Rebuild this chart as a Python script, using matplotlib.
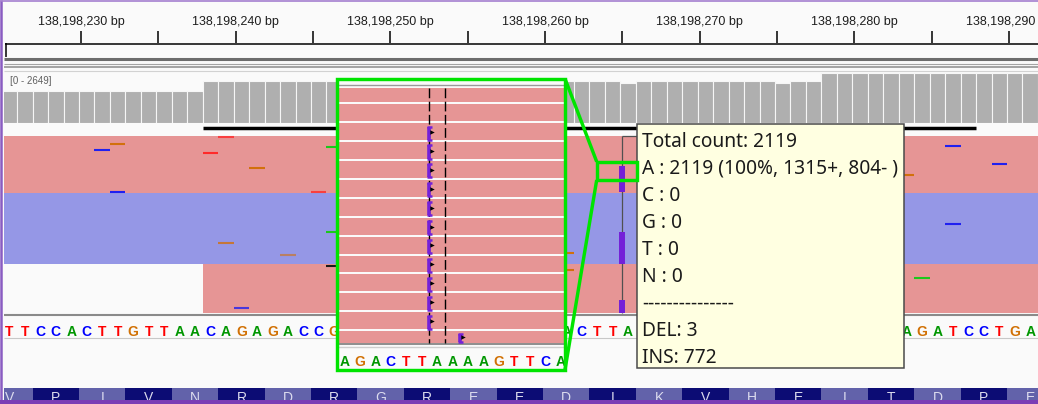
import numpy as np
import matplotlib
matplotlib.use("Agg")
import matplotlib.pyplot as plt
from matplotlib.patches import Rectangle

# canvas / genome scale (IGV screenshot, 1 base = ~15.5 px)
W, H = 1038, 404
PX_PER_BP = 15.467
TICK_X = 81            # pixel of the 138,198,230 tick
EDGE = -0.13           # base k covers [k+EDGE, k+1+EDGE]
CHROM_BASE = 138198000
BG = '#fafafa'

# ---- data ----
ruler_ticks = [230, 235, 240, 245, 250, 255, 260, 265, 270, 275, 280, 285, 290]
ruler_labels = [230, 240, 250, 260, 270, 280, 290]

cov_start = 225
coverage = [
    1695, 1695, 1695, 1695, 1695, 1695, 1695, 1695, 1695, 1695, 1695, 1695, 1695,   # 225-237
    2210, 2210, 2210, 2210, 2210, 2210, 2210, 2210, 2210, 2210, 2210, 2210, 2210,   # 238-250
    2210, 2210, 2210, 2210, 2210, 2210, 2210, 2210, 2210, 2210, 2210, 2210, 2210,   # 251-263
    2210, 2119, 2210, 2210, 2210, 2210, 2210, 2210, 2210, 2210, 2210, 2110, 2210,   # 264-276
    2210, 2640, 2640, 2640, 2640, 2649, 2640, 2640, 2640, 2640, 2640, 2640, 2640,   # 277-289
    2640, 2640,                                                                     # 290-291
]
cov_max = 2649
downsampled = (238, 287)

# '.' = base hidden behind the overlays in the screenshot
ref_start = 225
ref_seq = "TTCCACTTGTTAACAGAGACCG" + "............" + "AGACTTAAAAGTTCA" + "........." + "AGATCCTGA"

aa_start = 224
aa_seq = "VPIVNRDRGREEDIKVHEITDPE"

# collapsed read blocks: start, end, top, bottom (px inside read track), strand
read_blocks = [
    (220, 300, 2, 59, '-'),
    (220, 300, 59, 130, '+'),
    (238, 300, 130, 179.3, '-'),
]
# mismatches: base position, y in read track, base, alpha
mismatches = [
    (231, 15.7, 'C', 1.0), (232, 10.0, 'G', 1.0), (239, 2.7, 'T', 0.8),
    (238, 19.0, 'T', 1.0), (241, 33.7, 'G', 1.0), (246, 12.7, 'A', 1.0),
    (232, 58.0, 'C', 1.0), (245, 58.0, 'T', 0.8), (246, 98.0, 'A', 1.0),
    (239, 109.0, 'G', 0.8), (243, 121.0, 'G', 0.6), (246, 132.0, 'N', 1.0),
    (240, 173.7, 'C', 0.8), (286, 11.7, 'C', 1.0), (289, 29.7, 'C', 1.0),
    (283, 41.0, 'G', 1.0), (286, 89.7, 'C', 1.0), (284, 143.7, 'A', 1.0),
    (261, 119.0, 'G', 1.0), (261, 136.0, 'G', 1.0),
]
ins_base = 265
ins_segments = [(32, 58), (98, 130), (166, 179)]

# zoomed inset (expanded reads)
inset_rows = 14
inset_ins_rows = [2, 3, 4, 5, 6, 7, 8, 9, 10, 11, 12, 13]
inset_ins_base = [265, 265, 265, 265, 265, 265, 265, 265, 265, 265, 265, 267]
inset_seq_range = (259, 273)

tooltip_lines = [
    "Total count: 2119",
    "A : 2119 (100%, 1315+, 804- )",
    "C : 0",
    "G : 0",
    "T : 0",
    "N : 0",
    "---------------",
    "DEL: 3",
    "INS: 772",
]

base_colors = {'A': '#009600', 'C': '#0000ff', 'G': '#d17105', 'T': '#ff0000'}
mm_colors = {'A': '#1cc81c', 'C': '#2020f0', 'G': '#d2700c', 'T': '#ff2a2a', 'N': '#1a1a1a'}
PINK = '#e69595'
BLUE = '#9597e6'
PURPLE = '#7420d8'
GREEN = '#00e400'

# tooltip box in pixels
TIP_X0, TIP_X1, TIP_Y0, TIP_Y1 = 637.3, 903.7, 124, 368


def bp_at(px):
    return 230 + (px - TICK_X) / PX_PER_BP


fig = plt.figure(figsize=(W / 100, H / 100), dpi=100, facecolor=BG)


def px_axes(x0, y0, x1, y1, **kw):
    ax = fig.add_axes([x0 / W, 1 - y1 / H, (x1 - x0) / W, (y1 - y0) / H], **kw)
    ax.set_axis_off()
    return ax


XL = (bp_at(4), bp_at(W))

# ruler
ax_r = px_axes(4, 0, W, 44)
ax_r.set_xlim(*XL)
ax_r.set_ylim(44, 0)
ax_r.vlines(ruler_ticks, 31, 43, color='black', lw=1.1)
for v in ruler_labels:
    ax_r.text(v, 25.3, f"{CHROM_BASE + v:,} bp", ha='center', va='baseline',
              fontsize=9, family='Liberation Sans', color='#1e1e1e', clip_on=False)

# coverage
ax_c = px_axes(4, 72.7, W, 122.7)
ax_c.set_xlim(*XL)
ax_c.set_ylim(0, cov_max)
pos = np.arange(cov_start, cov_start + len(coverage))
ax_c.bar(pos + EDGE, coverage, width=1, align='edge', color='#afafaf',
         edgecolor='#f6f6f6', linewidth=0.8)

# downsampled bar
ax_d = px_axes(4, 124, W, 131)
ax_d.set_xlim(*XL)
ax_d.set_ylim(0, 1)
ax_d.hlines(0.5, downsampled[0] + EDGE, downsampled[1] + 1 + EDGE, color='black', lw=2.5)

# reads
ax_rd = px_axes(4, 134, W, 314)
ax_rd.set_xlim(*XL)
ax_rd.set_ylim(180, 0)
for s, e, top, bot, strand in read_blocks:
    ax_rd.add_patch(Rectangle((s + EDGE, top), e - s, bot - top, lw=0,
                              color=PINK if strand == '-' else BLUE))
for b, y, base, a in mismatches:
    ax_rd.hlines(y, b + EDGE, b + 1 + EDGE, color=mm_colors[base], alpha=a, lw=1.5)
ins_x = ins_base + EDGE + 0.09
ax_rd.vlines(ins_x, 2, 179, color='#505050', lw=0.9)
ax_rd.hlines(2, ins_x, ins_x + 1, color='#505050', lw=0.9)
for y0, y1 in ins_segments:
    ax_rd.vlines(ins_x, y0, y1, color=PURPLE, lw=4.3)

# reference sequence (letters under the tooltip are not shown)
ax_s = px_axes(4, 316, W, 340)
ax_s.set_xlim(*XL)
ax_s.set_ylim(340, 316)
tip_bp = (bp_at(TIP_X0), bp_at(TIP_X1))
for i, ch in enumerate(ref_seq):
    xc = ref_start + i + EDGE + 0.5
    if ch == '.' or tip_bp[0] < xc < tip_bp[1]:
        continue
    ax_s.text(xc, 336, ch, ha='center', va='baseline',
              color=base_colors[ch], fontsize=10, fontweight='bold',
              family='Liberation Sans', clip_on=True)

# amino acids
ax_a = px_axes(4, 388, W, 400)
ax_a.set_xlim(*XL)
ax_a.set_ylim(400, 388)
for i, aa in enumerate(aa_seq):
    x = aa_start + 3 * i + EDGE
    ax_a.add_patch(Rectangle((x, 388), 3, 12, lw=0,
                             color='#6262aa' if i % 2 == 0 else '#0c0c74'))
    ax_a.text(x + 1.5, 402, aa, ha='center', va='baseline', color='#dcdcee',
              fontsize=10, family='Liberation Sans', clip_on=True)

# track separators (below the inset and the tooltip)
sep = fig.add_axes([0, 0, 1, 1], zorder=1)
sep.set_xlim(0, W)
sep.set_ylim(H, 0)
sep.set_axis_off()
sep.patch.set_alpha(0)
sep.hlines(43.8, 5, W, color='black', lw=1.1)
sep.vlines(5.5, 43, 57, color='black', lw=1.1)
sep.hlines(58.5, 4, W, color='#6d6d6d', lw=2.2)
sep.hlines(63.5, 4, W, color='#a4a4a4', lw=0.8)
sep.hlines(66.8, 4, W, color='#8c8c8c', lw=1.1)
sep.hlines(71.0, 4, W, color='#d2d2d2', lw=0.8)
sep.hlines(314.6, 4, W, color='#8a8a8a', lw=1.5)
sep.hlines(337.8, 4, W, color='#c8c8c8', lw=0.8)
sep.text(10, 81, "[0 - 2649]", ha='left', va='center', fontsize=7,
         family='Liberation Sans', color='#606060')

# zoomed inset of the insertion site
INSET_CENTER_PX = 429.3          # px of left edge of base 265 in the inset
ROW0, ROW_H = 84.4, 18.9
PINK_TOP, PINK_BOT = 88.3, 342.7
ax_i = px_axes(336, 80, 564, 368, zorder=5)
ix0 = ins_base + EDGE - (INSET_CENTER_PX - 336) / PX_PER_BP
ix1 = ins_base + EDGE + (564 - INSET_CENTER_PX) / PX_PER_BP
ax_i.set_xlim(ix0, ix1)
ax_i.set_ylim(368, 80)
ax_i.add_patch(Rectangle((ix0, 80), ix1 - ix0, 288, color=BG, lw=0))
for r in range(inset_rows):
    y0 = max(ROW0 + r * ROW_H + 1, PINK_TOP)
    y1 = min(ROW0 + (r + 1) * ROW_H - 1, PINK_BOT)
    ax_i.add_patch(Rectangle((ix0, y0), ix1 - ix0, y1 - y0, color=PINK, lw=0))
ax_i.hlines(85.2, ix0, ix1, color='#9a9a9a', lw=1.0)
ax_i.hlines(344, ix0, ix1, color='#8e8e8e', lw=1.4)
ax_i.hlines(347, ix0, ix1, color='#cfcfcf', lw=1.0)
ax_i.vlines([ins_base + EDGE, ins_base + 1 + EDGE], PINK_TOP, PINK_BOT,
            colors='black', linestyles=(0, (7, 2.5)), lw=1.0)
for b, r in zip(inset_ins_base, inset_ins_rows):
    x = b + EDGE
    top = ROW0 + r * ROW_H + 4.3
    bot = min(ROW0 + (r + 1) * ROW_H - 1.5, PINK_BOT - 0.5)
    ax_i.vlines(x, top, bot, color=PURPLE, lw=2.6, zorder=3)
    ax_i.hlines([top, bot], x - 0.16, x + 0.16, color=PURPLE, lw=1.8, zorder=3)
    ax_i.plot(x + 0.16, (top + bot) / 2 - 1, marker='>', ms=3.2, color='black', mew=0, zorder=4)
for k in range(inset_seq_range[0], inset_seq_range[1] + 1):
    ch = ref_seq[k - ref_start]
    ax_i.text(k + EDGE + 0.5, 366, ch, ha='center', va='baseline',
              color=base_colors[ch], fontsize=10, fontweight='bold',
              family='Liberation Sans', clip_on=True)

# overlay: tooltip, green zoom box, window frame
ov = fig.add_axes([0, 0, 1, 1], zorder=10)
ov.set_xlim(0, W)
ov.set_ylim(H, 0)
ov.set_axis_off()
ov.patch.set_alpha(0)

ov.add_patch(Rectangle((TIP_X0, TIP_Y0), TIP_X1 - TIP_X0, TIP_Y1 - TIP_Y0,
                       fc='#ffffe1', ec='#4a4a4a', lw=1.1, zorder=5))
for i, line in enumerate(tooltip_lines):
    ov.text(642.5, 146.7 + 27 * i, line, ha='left', va='baseline', fontsize=13.8,
            family='Noto Sans', color='#1a1a1a', zorder=6)

GLW = 2.45
ov.add_patch(Rectangle((336.7, 78.7), 565 - 336.7, 369.7 - 78.7, fill=False,
                       ec=GREEN, lw=GLW, zorder=7))
ov.add_patch(Rectangle((596.7, 161.7), 637 - 596.7, 180 - 161.7, fill=False,
                       ec=GREEN, lw=GLW, zorder=7))
ov.plot([565, 596.7], [78.7, 161.7], color=GREEN, lw=GLW, solid_capstyle='butt', zorder=7)
ov.plot([565, 596.7], [369.7, 180], color=GREEN, lw=GLW, solid_capstyle='butt', zorder=7)

ov.vlines(1.2, 0, H, color='#8a5cc2', lw=1.8, zorder=8)
ov.hlines(0.8, 0, W, color='#a47fcf', lw=1.2, zorder=8)
ov.add_patch(Rectangle((0, 399.8), W, 4.5, color='#7b3db5', lw=0, zorder=8))

fig.savefig('out.png', dpi=100, facecolor=BG)
